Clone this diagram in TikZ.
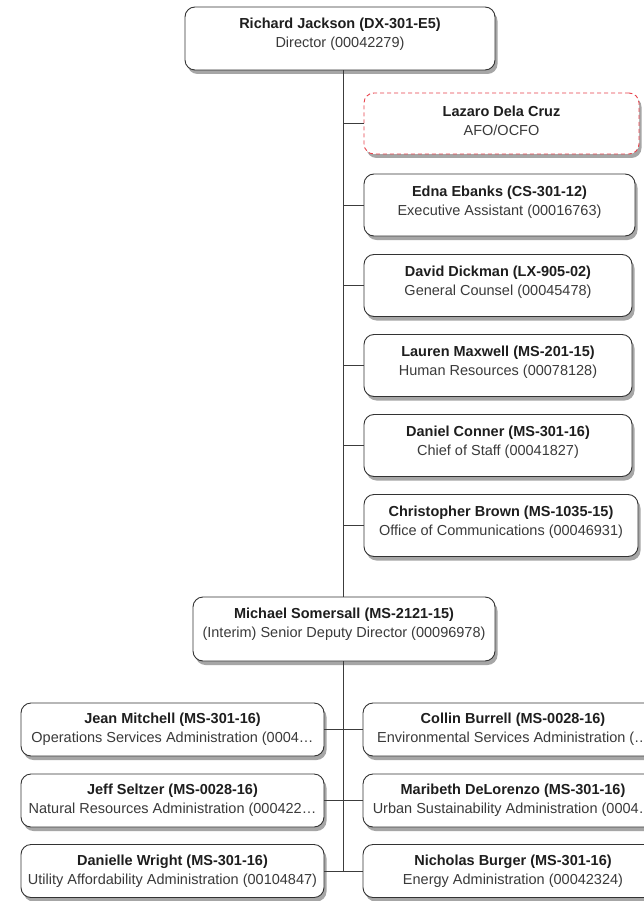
\documentclass[tikz,border=0pt]{standalone}
\usepackage{fontspec}
\setmainfont{Liberation Sans}
\usetikzlibrary{shadows}
\definecolor{boxline}{HTML}{333333}
\definecolor{shadowgray}{HTML}{A6A6A6}
\definecolor{nametext}{HTML}{1E1E1E}
\definecolor{subtext}{HTML}{3A3A3A}
\definecolor{linegray}{HTML}{3C3C3C}
\definecolor{dashred}{HTML}{E8414A}
\tikzset{
  orgbox/.style={draw=boxline, line width=0.9pt, rounded corners=10pt, fill=white,
    drop shadow={shadow xshift=2.5pt, shadow yshift=-4pt, fill=shadowgray, opacity=1},
    inner sep=0pt},
  redbox/.style={draw=dashred, dash pattern=on 4pt off 3pt},
  txt/.style={align=center, inner sep=0pt, font=\fontsize{14.5}{19}\selectfont, text=subtext},
  conn/.style={draw=linegray, line width=0.9pt}
}
% #1 name, #2 cx, #3 cy, #4 w, #5 h, #6 extra style, #7 text shift, #8 name line, #9 sub line
\newcommand\obox[9]{%
  \node[orgbox,#6,minimum width=#4pt,minimum height=#5pt] (#1) at (#2pt,-#3pt) {};
  \node[txt] (#1t) at ([yshift=#7pt]#1.center) {\textcolor{nametext}{\bfseries #8}\\ #9};
}
\begin{document}
\begin{tikzpicture}[x=1pt,y=1pt]
\useasboundingbox (0,0) rectangle (644,-901);
\clip (0,0) rectangle (644,-901);
\fill[white] (0,0) rectangle (644,-901);

\obox{dir}{340}{38.5}{310}{63}{}{4}{Richard Jackson (DX-301-E5)}{Director (00042279)}

\obox{lazaro}{501.5}{123.5}{275}{61}{redbox}{3}{Lazaro Dela Cruz}{AFO/OCFO}
\obox{edna}{499.5}{205}{271}{62}{}{3}{Edna Ebanks (CS-301-12)}{Executive Assistant (00016763)}
\obox{david}{498}{285.5}{268}{62}{}{3}{David Dickman (LX-905-02)}{General Counsel (00045478)}
\obox{lauren}{498}{365.5}{268}{62}{}{3}{Lauren Maxwell (MS-201-15)}{Human Resources (00078128)}
\obox{daniel}{498}{445.5}{268}{62}{}{3}{Daniel Conner (MS-301-16)}{Chief of Staff (00041827)}
\obox{chris}{501}{525.5}{274}{62}{}{3}{Christopher Brown (MS-1035-15)}{Office of Communications (00046931)}

\obox{som}{344}{629}{302}{64}{}{5}{Michael Somersall (MS-2121-15)}{(Interim) Senior Deputy Director (00096978)}

\obox{jean}{172.5}{729.5}{303}{53}{}{0}{Jean Mitchell (MS-301-16)}{Operations Services Administration (0004…}
\obox{jeff}{172.5}{800.5}{303}{53}{}{0}{Jeff Seltzer (MS-0028-16)}{Natural Resources Administration (000422…}
\obox{danielle}{172.5}{871}{303}{53}{}{0}{Danielle Wright (MS-301-16)}{Utility Affordability Administration (00104847)}

\obox{collin}{513}{729.5}{300}{53}{}{0}{Collin Burrell (MS-0028-16)}{Environmental Services Administration (…}
\obox{maribeth}{513}{800.5}{300}{53}{}{0}{Maribeth DeLorenzo (MS-301-16)}{Urban Sustainability Administration (0004…}
\obox{nicholas}{513}{871}{300}{53}{}{0}{Nicholas Burger (MS-301-16)}{Energy Administration (00042324)}

% spine
\coordinate (sp1) at (343,-70);
\draw[conn] (dir.south -| sp1) -- (som.north -| sp1);
\coordinate (sp2) at (343,-872);
\draw[conn] (som.south -| sp1) -- (sp2);
% right column stubs
\foreach \b in {lazaro,edna,david,lauren,daniel,chris}{
  \draw[conn] (\b.west -| sp1) -- (\b.west);
}
% bottom stubs
\draw[conn] (jean.east) -- (collin.west);
\draw[conn] (jeff.east) -- (maribeth.west);
\draw[conn] (danielle.east) -- (nicholas.west);
\end{tikzpicture}
\end{document}
